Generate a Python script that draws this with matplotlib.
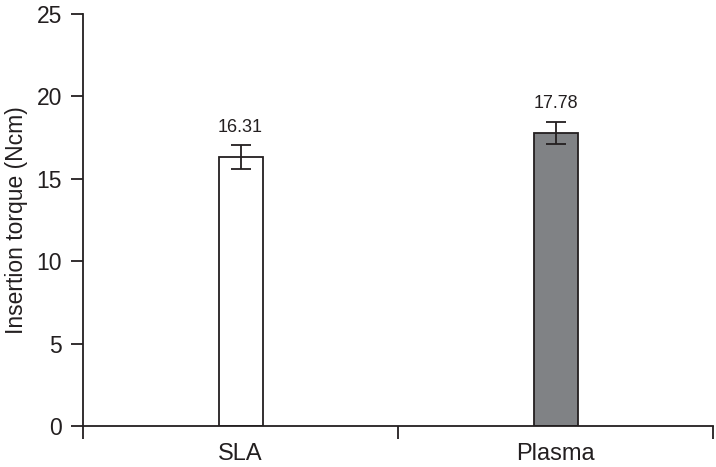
import matplotlib
matplotlib.use("Agg")
import matplotlib.pyplot as plt

categories = ["SLA", "Plasma"]
means = [16.31, 17.78]
errors = [0.72, 0.68]
labels = ["16.31", "17.78"]
colors = ["white", "#808285"]

plt.rcParams['font.family'] = ['Liberation Sans', 'DejaVu Sans']

fig = plt.figure(figsize=(7.16, 4.67), dpi=100)
ax = fig.add_axes([0.116, 0.088, 0.88, 0.882])

x = list(range(len(categories)))
ax.bar(x, means, width=0.14, color=colors, edgecolor="#231f20", linewidth=1.3,
       yerr=errors, error_kw=dict(ecolor="#231f20", elinewidth=1.3, capsize=7, capthick=1.3),
       zorder=2)
for xi, m, e, lab in zip(x, means, errors, labels):
    ax.text(xi, m + e + 1.1, lab, ha="center", va="center", fontsize=13, color="#231f20")

ax.set_xlim(-0.5, 1.5)
ax.set_ylim(0, 25)
ax.set_yticks([0, 5, 10, 15, 20, 25])
ax.set_xticks([-0.5, 0.5, 1.5])
ax.set_xticklabels([])
ax.set_xticks(x, minor=True)
ax.set_xticklabels(categories, minor=True)
ax.tick_params(axis="x", which="minor", length=0, pad=12, labelsize=17, colors="#231f20")
ax.tick_params(axis="x", which="major", length=9, width=1.3, direction="out", color="#231f20")
ax.tick_params(axis="y", length=9, width=1.3, direction="out", pad=6, labelsize=16.5,
               colors="#231f20")
for s in ["top", "right"]:
    ax.spines[s].set_visible(False)
for s in ["left", "bottom"]:
    ax.spines[s].set_linewidth(1.3)
    ax.spines[s].set_color("#231f20")
ax.set_ylabel("Insertion torque (Ncm)", fontsize=16.5, color="#231f20", labelpad=6)

fig.savefig("out.png", dpi=100)
